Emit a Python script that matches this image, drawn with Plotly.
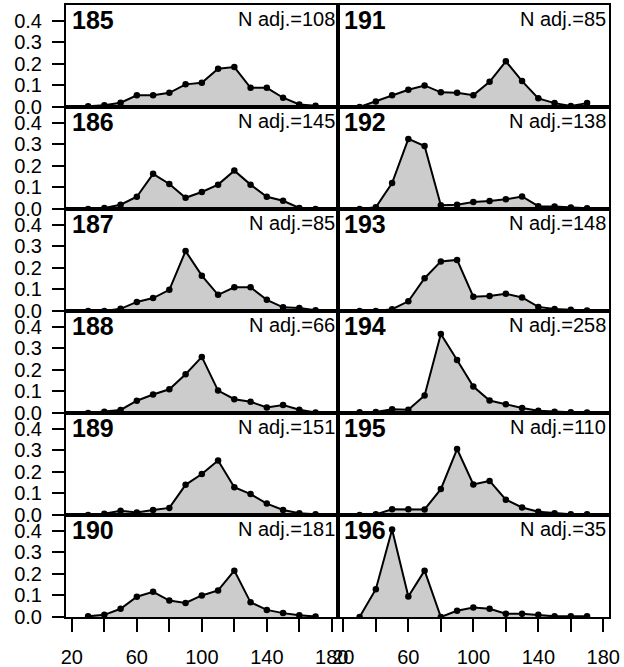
import plotly.graph_objects as go

x_vals = [30, 40, 50, 60, 70, 80, 90, 100, 110, 120, 130, 140, 150, 160, 170]

panel_ids = ["185", "186", "187", "188", "189", "190",
             "191", "192", "193", "194", "195", "196"]
n_adj = [108, 145, 85, 66, 151, 181, 85, 138, 148, 258, 110, 35]

y185 = [0.003, 0.008, 0.020, 0.054, 0.054, 0.066, 0.105, 0.112, 0.177, 0.185, 0.089, 0.089, 0.043, 0.012, 0.006]
y186 = [0.000, 0.005, 0.020, 0.057, 0.163, 0.116, 0.052, 0.079, 0.113, 0.178, 0.113, 0.057, 0.038, 0.005, 0.000]
y187 = [0.000, 0.000, 0.010, 0.042, 0.060, 0.098, 0.278, 0.164, 0.075, 0.110, 0.110, 0.052, 0.017, 0.014, 0.003]
y188 = [0.000, 0.006, 0.014, 0.057, 0.086, 0.110, 0.180, 0.260, 0.104, 0.064, 0.052, 0.026, 0.037, 0.015, 0.002]
y189 = [0.000, 0.006, 0.020, 0.012, 0.023, 0.033, 0.140, 0.190, 0.253, 0.129, 0.097, 0.053, 0.023, 0.008, 0.003]
y190 = [0.003, 0.010, 0.038, 0.094, 0.117, 0.076, 0.065, 0.100, 0.123, 0.215, 0.068, 0.033, 0.018, 0.008, 0.002]
y191 = [0.000, 0.026, 0.054, 0.080, 0.100, 0.068, 0.066, 0.055, 0.117, 0.212, 0.120, 0.040, 0.018, 0.005, 0.018]
y192 = [0.000, 0.008, 0.120, 0.325, 0.292, 0.017, 0.020, 0.032, 0.037, 0.045, 0.058, 0.013, 0.012, 0.007, 0.003]
y193 = [0.000, 0.000, 0.008, 0.045, 0.152, 0.230, 0.237, 0.066, 0.070, 0.080, 0.063, 0.019, 0.009, 0.006, 0.002]
y194 = [0.003, 0.005, 0.017, 0.015, 0.081, 0.366, 0.246, 0.123, 0.058, 0.040, 0.023, 0.011, 0.006, 0.003, 0.002]
y195 = [0.000, 0.003, 0.027, 0.027, 0.026, 0.120, 0.306, 0.142, 0.158, 0.071, 0.035, 0.015, 0.008, 0.003, 0.003]
y196 = [0.000, 0.129, 0.406, 0.095, 0.215, 0.000, 0.029, 0.044, 0.038, 0.015, 0.015, 0.010, 0.003, 0.003, 0.003]

series = [y185, y186, y187, y188, y189, y190, y191, y192, y193, y194, y195, y196]

y_ticks = [0.0, 0.1, 0.2, 0.3, 0.4]
y_ticktext = ["0.0", "0.1", "0.2", "0.3", "0.4"]
x_ticks = [20, 40, 60, 80, 100, 120, 140, 160, 180]
x_ticktext = ["20", "", "60", "", "100", "", "140", "", "180"]

FONT = "Liberation Sans, Arial, sans-serif"
X_RANGE = [16.4, 183.5]
Y_RANGE = [0, 0.473]
NROWS = 6

fig = go.Figure()
layout = {}
annotations = []

for i, (pid, n, yv) in enumerate(zip(panel_ids, n_adj, series)):
    col = i // NROWS
    row = i % NROWS
    k = i + 1
    xa = "x" if k == 1 else f"x{k}"
    ya = "y" if k == 1 else f"y{k}"
    xkey = "xaxis" if k == 1 else f"xaxis{k}"
    ykey = "yaxis" if k == 1 else f"yaxis{k}"

    fig.add_trace(go.Scatter(
        x=x_vals, y=yv, xaxis=xa, yaxis=ya,
        mode="lines+markers", fill="tozeroy", fillcolor="#CCCCCC",
        line=dict(color="black", width=2),
        marker=dict(color="black", size=6.5),
        showlegend=False, hoverinfo="skip",
    ))

    x0 = 0.0 if col == 0 else 0.5
    x1 = 0.5 if col == 0 else 1.0
    y1 = 1 - row / NROWS
    y0 = 1 - (row + 1) / NROWS
    bottom = row == NROWS - 1

    layout[xkey] = dict(
        domain=[x0, x1], range=X_RANGE, anchor=ya, automargin=False,
        showgrid=False, zeroline=False,
        showline=True, linecolor="black", linewidth=2, mirror=True,
        tickvals=x_ticks if bottom else [], ticktext=x_ticktext if bottom else [],
        ticks="outside" if bottom else "", ticklen=13, tickwidth=2, tickcolor="black",
        showticklabels=bottom, ticklabelstandoff=8,
        tickfont=dict(family=FONT, size=20, color="black"),
    )
    layout[ykey] = dict(
        domain=[y0, y1], range=Y_RANGE, anchor=xa, automargin=False,
        showgrid=False, zeroline=False,
        showline=True, linecolor="black", linewidth=2, mirror=True,
        tickvals=y_ticks if col == 0 else [], ticktext=y_ticktext if col == 0 else [],
        ticks="outside" if col == 0 else "", ticklen=12, tickwidth=2, tickcolor="black",
        showticklabels=(col == 0), ticklabelstandoff=6,
        tickfont=dict(family=FONT, size=20, color="black"),
    )

    annotations.append(dict(
        text=f"<b>{pid}</b>", xref=f"{xa} domain", yref=f"{ya} domain",
        x=0, y=1, xanchor="left", yanchor="top", xshift=4, yshift=1,
        showarrow=False, font=dict(family=FONT, size=25, color="black"),
    ))
    annotations.append(dict(
        text=f"N adj.={n}", xref=f"{xa} domain", yref=f"{ya} domain",
        x=1, y=1, xanchor="right", yanchor="top", xshift=-1, yshift=-1,
        showarrow=False, font=dict(family=FONT, size=20, color="black"),
    ))

fig.update_layout(
    width=624, height=667,
    margin=dict(l=66, r=15, t=5, b=50, pad=0, autoexpand=False),
    paper_bgcolor="white", plot_bgcolor="white",
    annotations=annotations,
    **layout,
)

fig.write_html("out.html", config={"displayModeBar": False},
               post_script="document.body.style.margin='0';")
